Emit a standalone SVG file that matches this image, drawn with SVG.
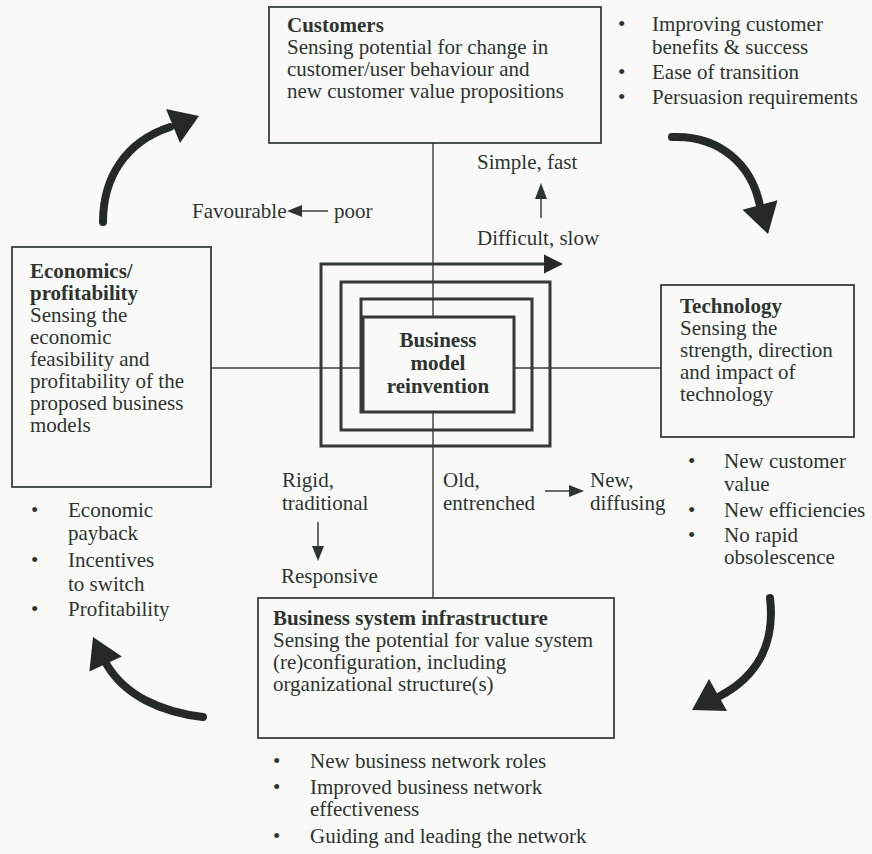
<svg xmlns="http://www.w3.org/2000/svg" width="872" height="854" viewBox="0 0 872 854">
<defs>
<style>
text{font-family:"Liberation Serif","Times New Roman",serif;font-size:21px;fill:#2e3430}
.b{font-weight:bold}
.c{text-anchor:middle}
.box{fill:none;stroke:#3a3f3b;stroke-width:1.8}
.thin{fill:none;stroke:#3a3f3b;stroke-width:1.4}
.spiral{fill:none;stroke:#353a36;stroke-width:3;stroke-linejoin:miter}
.big{fill:none;stroke:#252a27;stroke-width:8;stroke-linecap:round}
.head{fill:#252a27}
.lab{fill:none;stroke:#3a3f3b;stroke-width:1.5}
.lhead{fill:#2e3430}
</style>
</defs>
<rect width="872" height="854" fill="#f9faf8"/>

<g id="connectors">
<line class="thin" x1="433" y1="143" x2="433" y2="317"/>
<line class="thin" x1="433" y1="413" x2="433" y2="598"/>
<line class="thin" x1="211" y1="368" x2="362" y2="368"/>
<line class="thin" x1="514" y1="368" x2="661" y2="368"/>
<path class="big" d="M103,222 C103,178 125,142 170,127"/>
<polygon class="head" points="199,116 166,109 180,143"/>
<path class="big" d="M672,137 C720,135 752,165 760,206"/>
<polygon class="head" points="768,234 742.5,209.7 777.5,200.3"/>
<path class="big" d="M770,598 C775,640 760,675 720,696"/>
<polygon class="head" points="692,710 727,711 709,679"/>
<path class="big" d="M203,717 C160,712 125,695 107,665"/>
<polygon class="head" points="93,637 121.8,656.4 89.4,671.6"/>
<line class="lab" x1="298" y1="211" x2="328" y2="211"/>
<polygon class="lhead" points="287,211 302,205 302,217"/>
<line class="lab" x1="541" y1="218" x2="541" y2="195"/>
<polygon class="lhead" points="541,183 535,199 547,199"/>
<line class="lab" x1="318" y1="522" x2="318" y2="550"/>
<polygon class="lhead" points="318,561 312,546 324,546"/>
<line class="lab" x1="545" y1="491" x2="572" y2="491"/>
<polygon class="lhead" points="584,491 569,485 569,497"/>
</g>

<g id="bmr">
<path class="spiral" d="M363,412 V317 H514 V412 H361 V299 H532 V430 H341 V282 H550 V446 H321 V264 H546"/>
<polygon class="head" points="563,264 544,254.5 544,273.5"/>
<text class="b c" x="438" y="347">Business</text>
<text class="b c" x="438" y="370">model</text>
<text class="b c" x="438" y="393">reinvention</text>
</g>

<g id="customers">
<rect class="box" x="269" y="7" width="332" height="136"/>
<text class="b" x="287" y="32">Customers</text>
<text x="287" y="54">Sensing potential for change in</text>
<text x="287" y="76">customer/user behaviour and</text>
<text x="287" y="98">new customer value propositions</text>
</g>
<g id="customers-bullets">
<text x="618" y="31">•</text><text x="652" y="31">Improving customer</text>
<text x="652" y="54">benefits &amp; success</text>
<text x="618" y="79">•</text><text x="652" y="79">Ease of transition</text>
<text x="618" y="104">•</text><text x="652" y="104">Persuasion requirements</text>
</g>

<g id="technology">
<rect class="box" x="661" y="285" width="193" height="152"/>
<text class="b" x="680" y="313">Technology</text>
<text x="680" y="335">Sensing the</text>
<text x="680" y="357">strength, direction</text>
<text x="680" y="379">and impact of</text>
<text x="680" y="401">technology</text>
</g>
<g id="technology-bullets">
<text x="688" y="468">•</text><text x="724" y="468">New customer</text>
<text x="724" y="491">value</text>
<text x="688" y="517">•</text><text x="724" y="517">New efficiencies</text>
<text x="688" y="542">•</text><text x="724" y="542">No rapid</text>
<text x="724" y="564">obsolescence</text>
</g>

<g id="economics">
<rect class="box" x="12" y="247" width="199" height="240"/>
<text class="b" x="30" y="278">Economics/</text>
<text class="b" x="30" y="300">profitability</text>
<text x="30" y="322">Sensing the</text>
<text x="30" y="344">economic</text>
<text x="30" y="366">feasibility and</text>
<text x="30" y="388">profitability of the</text>
<text x="30" y="410">proposed business</text>
<text x="30" y="432">models</text>
</g>
<g id="economics-bullets">
<text x="31" y="517">•</text><text x="68" y="517">Economic</text>
<text x="68" y="540">payback</text>
<text x="31" y="567">•</text><text x="68" y="567">Incentives</text>
<text x="68" y="591">to switch</text>
<text x="31" y="616">•</text><text x="68" y="616">Profitability</text>
</g>

<g id="business-system">
<rect class="box" x="258" y="598" width="356" height="140"/>
<text class="b" x="273" y="625">Business system infrastructure</text>
<text x="273" y="647">Sensing the potential for value system</text>
<text x="273" y="669">(re)configuration, including</text>
<text x="273" y="691">organizational structure(s)</text>
</g>
<g id="business-system-bullets">
<text x="273" y="768">•</text><text x="310" y="768">New business network roles</text>
<text x="273" y="794">•</text><text x="310" y="794">Improved business network</text>
<text x="310" y="816">effectiveness</text>
<text x="273" y="843">•</text><text x="310" y="843">Guiding and leading the network</text>
</g>

<g id="labels">
<text x="192" y="218">Favourable</text>
<text x="334" y="218">poor</text>
<text x="477" y="169">Simple, fast</text>
<text x="477" y="245">Difficult, slow</text>
<text x="282" y="487">Rigid,</text>
<text x="282" y="510">traditional</text>
<text x="281" y="583">Responsive</text>
<text x="443" y="487">Old,</text>
<text x="443" y="510">entrenched</text>
<text x="590" y="487">New,</text>
<text x="590" y="510">diffusing</text>
</g>
</svg>
